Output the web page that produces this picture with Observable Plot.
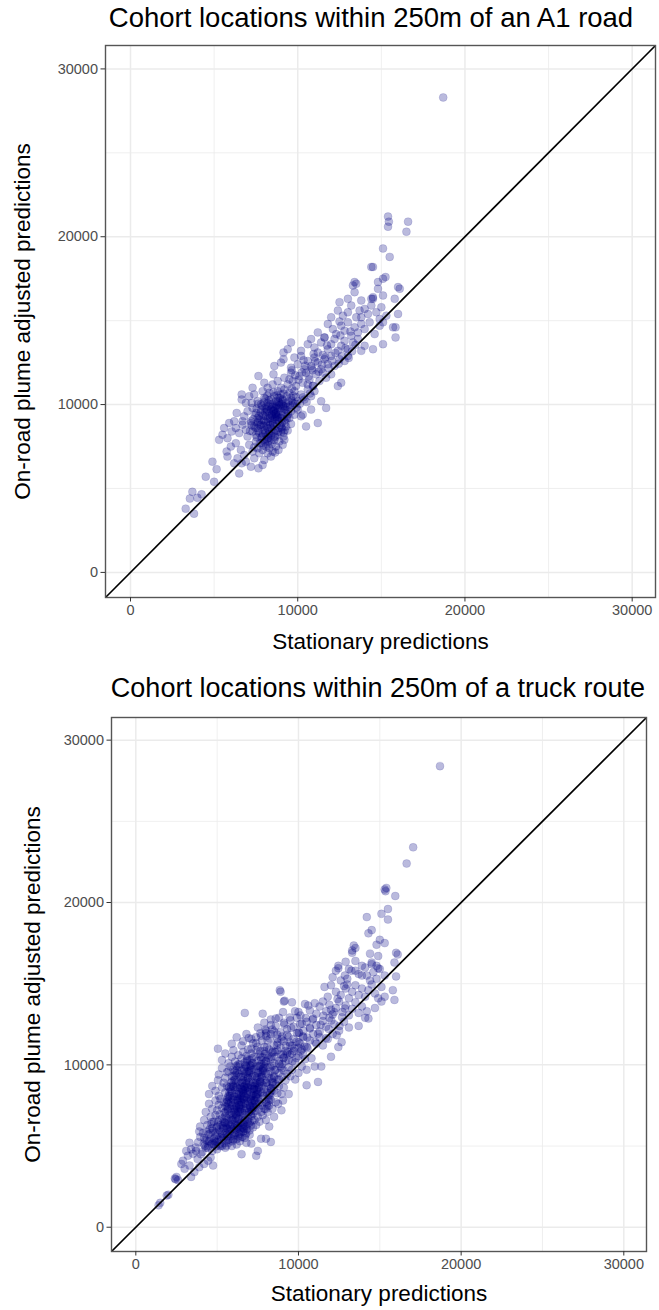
<!DOCTYPE html>
<html>
<head>
<meta charset="utf-8">
<script src="https://cdn.jsdelivr.net/npm/d3@7"></script>
<script src="https://cdn.jsdelivr.net/npm/@observablehq/plot@0.6"></script>
<style>
  body { margin: 0; background: #fff; font-family: "Liberation Sans", Arial, sans-serif; }
  #page { position: relative; width: 659px; height: 1310px; background: #fff; overflow: hidden; }
  .title { position: absolute; width: 640px; text-align: center; white-space: nowrap; color: #000; line-height: 1; }
  .panel { position: absolute; left: 0; }
  .panel [aria-label="x-axis tick label"], .panel [aria-label="y-axis tick label"] { fill: #4d4d4d; }
  .panel [aria-label="x-axis tick"], .panel [aria-label="y-axis tick"] { stroke: #333; }
</style>
</head>
<body>
<div id="page"></div>
<script>
// Axis setup shared by both panels
const majorTicks = [0, 10000, 20000, 30000];
const minorTicks = [5000, 15000, 25000];
const axisLimits = [-1495, 31395];
const xTitle = "Stationary predictions";
const yTitle = "On-road plume adjusted predictions";
const panelTitles = ["Cohort locations within 250m of an A1 road", "Cohort locations within 250m of a truck route"];

// [stationary, on-road adjusted] predictions, locations within 250m of an A1 road
const a1RoadPoints = [
  [3300,3800],[3700,4800],[3550,4400],[4000,4450],[3800,3500],[4250,4650],[4500,5700],[5000,5400],[4900,6600],[5150,6150],
  [6500,5900],[6200,6500],[6650,6500],[7200,6300],[7650,6200],[8000,6700],[7400,6800],[6900,6600],[5800,6900],[8400,6900],[7900,6400],[6400,6800],
  [5300,7900],[5750,7200],[6000,7500],[6300,7700],[6600,7300],[6800,7000],[7100,7600],[7300,7200],[7500,7800],[7600,7400],
  [7700,7100],[7800,7700],[7900,7300],[8000,7900],[8100,7500],[8200,7100],[8250,7800],[8300,7400],[8450,7650],[8500,7200],
  [8600,7900],[8700,7500],[8850,7300],[8900,7800],[9100,7600],[9200,7900],[7950,7550],[8150,7950],[7400,7450],[8650,7150],
  [5500,8200],[5600,8600],[5800,8000],[5900,8900],[6050,8400],[6300,8600],[6500,8300],[6700,8800],[6900,8500],[7000,8100],
  [7200,8900],[7300,8400],[7400,8700],[7500,8200],[7600,8600],[7650,8950],[7700,8300],[7800,8800],[7850,8100],[7900,8500],
  [8000,8700],[8050,8300],[8100,8950],[8150,8100],[8200,8600],[8300,8400],[8350,8800],[8400,8150],[8450,8550],[8500,8900],
  [8550,8350],[8600,8700],[8700,8450],[8750,8850],[8800,8200],[8900,8600],[9000,8350],[9050,8900],[9150,8100],[9300,8700],
  [9400,8450],[9600,8850],[8250,8250],[7950,8750],[8650,8050],
  [6200,9000],[6350,9500],[6700,9000],[6800,9300],[7000,9600],[7200,9000],[7300,9800],[7500,9500],[7600,9200],[7700,9100],
  [7800,9700],[7900,9400],[8000,9050],[8050,9800],[8100,9300],[8150,9600],[8200,9150],[8250,9900],[8300,9450],[8350,9200],
  [8400,9700],[8450,9350],[8500,9050],[8550,9600],[8600,9850],[8650,9250],[8700,9500],[8750,9100],[8800,9750],[8850,9400],
  [8900,9950],[8950,9200],[9000,9600],[9100,9350],[9150,9800],[9200,9050],[9300,9500],[9400,9850],[9500,9200],[9600,9600],
  [9700,9950],[9800,9400],[10000,9700],[10200,9300],[8280,9620],[8580,9420],[8820,9280],[8120,9880],[8700,9920],[9050,9150],
  [6650,10600],[6900,10100],[6650,10300],[7250,10100],[7400,10600],[7100,10500],[7600,10200],[7800,10000],[7900,10800],[8000,10400],
  [8200,10100],[8300,10700],[8400,10300],[8500,10050],[8600,10500],[8700,10200],[8800,10800],[8850,10400],[8900,10100],[9000,10600],
  [9100,10300],[9200,10900],[9300,10050],[9350,10500],[9450,10200],[9500,10700],[9600,10400],[9700,10100],[9800,10800],[9900,10450],
  [10000,10200],[10200,10600],[10400,10300],[10600,10900],[10800,10500],[11000,10800],[8550,10750],[9150,10650],[8750,10550],[9650,10950],
  [7550,8050],[7620,8420],[7720,8770],[7830,9080],[7940,9330],[8030,9560],[8140,9720],[8230,8010],[8320,8290],[8410,8620],
  [8520,8820],[8610,9120],[8720,9330],[8810,9560],[8920,9780],[9020,10020],[9120,10230],[9230,9880],[9320,9680],[9420,9430],
  [7480,8630],[7590,8920],[7680,9320],[7780,9540],[7870,9910],[7970,10130],[8070,10330],[8180,10520],[8280,10260],[8380,10040],
  [8470,9860],[8560,9640],[8670,9470],[8760,9240],[8860,9030],[8960,8780],[9060,8560],[9160,8330],[9260,8930],[9360,9170],
  [7730,7720],[7830,8020],[7930,8240],[8030,8470],[8130,8740],[8240,8960],[8330,9150],[8440,9380],[8530,9590],[8640,9770],
  [8740,10010],[8840,10190],[8940,10390],[9040,10140],[9140,9910],[9240,9720],[9340,9290],[8020,7780],[8220,7620],[8420,7880],
  [8620,8120],[8820,8390],[9020,8640],[9220,8470],[7640,10050],[7540,9750],[7440,9380],[7340,9120],[7240,8770],[7140,8430],
  [9530,9950],[9630,10240],[9730,10520],[9830,10060],[9930,9830],[10130,10050],[10330,10430],[10530,10150],[10730,10660],[10930,11120],
  [10500,8700],[10800,9700],[11200,8900],[11700,9800],[12400,11100],[12600,11300],[10300,9400],[11400,10200],
  [7650,11700],[7300,11000],[8000,11300],[8200,11000],[8500,11200],[8550,11800],[8800,11400],[9000,11000],[9200,11600],[9400,11200],
  [9600,11900],[9700,11400],[9900,11100],[10100,11700],[10300,11300],[10500,11900],[10700,11500],[10900,11100],[11100,11800],[11300,11400],
  [11500,11900],[11700,11600],[12000,11800],[9500,11500],[10600,11200],
  [10050,11480],[10250,11920],[10450,12320],[10650,11680],[10850,12150],[11050,12580],[11250,11960],[11450,12380],[11650,12820],[11850,12160],
  [12050,12610],[12250,13080],[12450,12440],[12650,12900],[12850,13360],[13050,12780],[13250,13180],[13450,13560],[9850,11750],[9650,12050],
  [10350,12640],[10950,13020],[11750,13520],[12550,14120],[13150,14350],
  [9000,12500],[9150,12700],[8600,12300],[9600,12200],[9800,12800],[10000,12400],[10200,12900],[10400,12100],[10600,12600],[10800,12300],
  [11000,12800],[11200,12500],[11400,12100],[11600,12700],[11800,12400],[12000,12900],[12200,12300],[12500,12700],[12800,12600],[13000,12900],
  [10900,12050],[11500,12950],
  [9150,13100],[9400,13300],[9600,13700],[10600,13600],[10200,13200],[10800,13900],[11000,13400],[11200,13100],[11400,13700],[11600,14000],
  [11800,13300],[12000,13600],[12200,13900],[12400,13200],[12600,13500],[12800,13800],[13000,13300],[13300,13700],[13600,13900],[14000,13500],
  [14500,13300],[15100,13600],[15850,14000],[13800,13200],
  [11200,14300],[11600,14000],[11800,14800],[12100,14500],[12300,14200],[12600,14700],[12800,14400],[13000,14900],[13200,14100],[13400,14600],
  [13600,14300],[13800,14800],[14000,14500],[14300,14900],[14600,14200],[14900,14700],[15100,14900],[15700,14600],[15850,14600],[12500,14950],
  [12000,15200],[12400,15600],[12700,15300],[13000,15500],[13200,15900],[13500,15200],[13800,15200],[14000,15700],[14200,15400],[14400,15900],
  [14700,15500],[15000,15800],[15300,15300],[16000,15400],[13700,15600],[14900,15100],
  [12500,16100],[13000,16300],[13400,16700],[13800,16200],[14400,16300],[14500,16300],[14500,16400],[14800,16900],[15100,16500],[15800,16300],
  [16000,17000],[16100,16900],[13400,17300],[13500,17200],[13300,17100],
  [14800,17300],[15250,17600],[15100,17500],[14400,18200],[14500,18200],[15500,18800],[15100,19300],[15400,21200],[15400,20600],[15450,20900],
  [16600,20900],[16500,20300],[18700,28300]
];

// [stationary, on-road adjusted] predictions, locations within 250m of a truck route
const truckRoutePoints = [
  [1400,1350],[1500,1500],[1900,1950],[2000,2000],[2400,3000],[2600,2900],[2500,3100],[2450,2950],
  [3000,3600],[3400,3100],[2900,4100],[3200,4400],[3800,4200],[4000,4500],[4750,3800],[4450,4100],[2800,3900],[3300,3800],
  [3600,3400],[4200,3900],[3900,3700],[4600,4300],
  [3520,4520],[3680,4910],[3830,5230],[3960,5560],[4090,4640],[4170,5120],[4290,5370],[4360,5890],[4470,4980],[4580,5450],
  [4660,5120],[4740,5940],[4850,5310],[4930,4980],[5020,5690],[5110,6010],[5180,4990],[5260,5560],[5340,6230],[5430,5180],
  [5520,5810],[5600,6120],[5690,5380],[5770,5720],[5860,6060],[5940,5290],[6030,5600],[6110,6290],[6190,5420],[6280,6140],
  [6360,5750],[6450,6420],[6530,5560],[6620,6080],[6700,6260],[6790,5790],[6870,6520],[4130,5810],[4680,6480],[5570,5020],
  [3100,4700],[3400,4800],[3700,4700],[3300,5200],[3900,5900],[4200,5500],[4300,4900],[4500,5300],[4600,5800],[4700,4700],
  [4800,5100],[4900,5600],[5000,4800],[5100,5400],[5200,5900],[5300,5000],[5400,5500],[5500,4900],[5600,5700],[5700,5200],
  [5800,5900],[5900,5000],[6000,5400],[6100,5800],[6200,5100],[6300,5600],[6400,5300],[6500,4500],[6600,5900],[6700,5500],
  [6800,5200],[7000,5700],[7100,5150],[7400,4400],[7500,4700],[7700,5450],[8000,5450],[8300,5250],[5000,5250],[5550,5350],
  [4250,5020],[4380,5340],[4460,5710],[4540,6030],[4630,6360],[4720,5180],[4810,5470],[4890,5830],[4970,6140],[5060,6480],
  [5140,5090],[5230,5390],[5310,5740],[5390,6080],[5480,6410],[5570,6730],[5650,5600],[5740,5930],[5820,6270],[5910,6590],
  [5990,6920],[6080,5700],[6160,6020],[6240,6330],[6330,6680],[6410,5520],[6490,5860],[6580,6190],[6660,6520],[6740,5680],
  [6830,6040],[6910,6380],[6990,5960],[7080,6260],[7160,6570],[4420,4880],[4910,5240],[5360,5610],[5870,5460],[6270,5830],
  [4200,6600],[3950,6200],[4400,6300],[4600,6800],[4700,6100],[4800,6500],[4900,6900],[5000,6200],[5100,6600],[5150,6950],
  [5200,6300],[5300,6700],[5350,6100],[5400,6500],[5500,6850],[5550,6250],[5600,6600],[5700,6400],[5750,6950],[5800,6150],
  [5850,6700],[5900,6350],[6000,6800],[6050,6100],[6100,6550],[6200,6900],[6250,6250],[6300,6650],[6400,6450],[6450,6950],
  [6500,6100],[6550,6750],[6600,6350],[6700,6600],[6750,6900],[6800,6200],[6900,6700],[7000,6450],[7100,6850],[7200,6150],
  [7300,6600],[7400,6300],[7500,6800],[7600,6500],[7800,6900],[8000,6600],[8200,6200],[8500,6800],[5450,6450],[5950,6600],
  [6150,6750],[6650,6050],[5650,6050],[6350,6050],[7050,6950],
  [4300,7100],[4500,7600],[4700,7300],[4900,7800],[5000,7200],[5100,7550],[5200,7900],[5300,7350],[5400,7700],[5450,7050],
  [5500,7450],[5600,7850],[5650,7200],[5700,7600],[5750,7950],[5800,7300],[5850,7700],[5900,7050],[5950,7500],[6000,7850],
  [6050,7250],[6100,7650],[6150,7000],[6200,7400],[6250,7800],[6300,7150],[6350,7550],[6400,7950],[6450,7300],[6500,7700],
  [6550,7050],[6600,7450],[6650,7850],[6700,7200],[6750,7600],[6800,7950],[6850,7350],[6900,7750],[6950,7100],[7000,7500],
  [7050,7900],[7100,7250],[7150,7650],[7200,7000],[7250,7400],[7300,7800],[7350,7150],[7400,7550],[7500,7950],[7550,7300],
  [7600,7700],[7700,7100],[7750,7500],[7800,7900],[7900,7300],[8000,7700],[8100,7100],[8200,7500],[8300,7850],[8400,7300],
  [8600,7700],[8750,7600],[8950,7200],[9050,7800],[6120,7320],[6420,7120],[6680,7620],[5880,7480],[7080,7380],[6280,7920],
  [5520,7120],[5610,7430],[5690,7770],[5780,8090],[5860,8410],[5950,8730],[6040,9060],[6120,9380],[6210,9700],[6290,10020],
  [6380,7230],[6460,7540],[6550,7880],[6630,8200],[6720,8520],[6810,8840],[6890,9170],[6980,9490],[7060,9810],[7150,10130],
  [7230,7340],[7320,7660],[7400,7990],[7490,8310],[7570,8630],[7660,8960],[7750,9280],[7830,9600],[7920,9920],[8000,10240],
  [8090,7450],[8170,7780],[8260,8100],[8340,8420],[8430,8740],[5580,7680],[5670,8010],[5750,8330],[5840,8650],[5920,8970],
  [6010,9290],[6100,9610],[6180,9930],[6270,7060],[6350,7390],[6440,7710],[6520,8040],[6610,8360],[6690,8680],[6780,9000],
  [6870,9320],[6950,9640],[7040,9970],[7120,7170],[7210,7500],[7290,7820],[7380,8150],[7460,8470],[7550,8790],[7640,9110],
  [7720,9430],[7810,9760],[7890,10080],[7980,7280],[8060,7610],[8150,7930],[8230,8260],[8320,8580],[8400,8900],[8490,9220],
  [6060,7110],[6160,7470],[6240,7840],[6330,8190],[6420,8560],[6500,8920],[6590,9270],[6670,9630],[6760,9990],[6840,10350],
  [6930,7070],[7010,7430],[7100,7800],[7180,8150],[7270,8510],[7350,8880],[7440,9240],[7520,9590],[7610,9950],[7700,10310],
  [5660,7290],[5930,7950],[6190,8620],[6460,9270],[6730,9930],[6990,7860],[7250,8520],[7520,7600],[7780,8260],[8050,8920],
  [6620,7940],[6880,8600],[7140,9260],[7410,9920],[6360,7510],[6790,7310],[7060,8000],[6560,8480],[6210,8050],[7330,8740],
  [4500,8200],[4700,8700],[4900,8400],[5050,9050],[5100,8100],[5300,8600],[5400,8900],[5500,8300],[5600,8700],[5700,8100],
  [5800,8500],[5850,8900],[5900,8250],[6000,8650],[6050,8050],[6100,8450],[6150,8850],[6200,8200],[6250,8600],[6300,8950],
  [6350,8350],[6400,8750],[6450,8100],[6500,8500],[6550,8900],[6600,8250],[6650,8650],[6700,8050],[6750,8450],[6800,8850],
  [6850,8200],[6900,8600],[6950,8950],[7000,8350],[7050,8750],[7100,8100],[7150,8500],[7200,8900],[7250,8250],[7300,8650],
  [7350,8050],[7400,8450],[7450,8850],[7500,8200],[7600,8600],[7650,8950],[7700,8350],[7800,8750],[7850,8100],[7900,8500],
  [8000,8900],[8050,8300],[8100,8700],[8200,8150],[8300,8550],[8400,8950],[8500,8400],[8600,8800],[8700,8250],[8800,8700],
  [8950,8200],[9100,8600],[9400,8200],[10500,8750],[11200,8950],[6620,8420],[7120,8720],[5720,8620],[6880,8380],[7420,8180],
  [5100,9400],[5300,9800],[5500,9200],[5700,9600],[5800,9900],[5900,9300],[6000,9700],[6100,9100],[6200,9500],[6300,9900],
  [6400,9250],[6500,9650],[6600,9050],[6700,9450],[6800,9850],[6900,9200],[7000,9600],[7100,9950],[7200,9350],[7300,9750],
  [7400,9100],[7500,9500],[7600,9900],[7700,9250],[7800,9650],[7900,9050],[8000,9450],[8100,9850],[8200,9200],[8300,9600],
  [8400,9950],[8500,9300],[8600,9700],[8700,9100],[8800,9500],[8900,9900],[9000,9250],[9100,9650],[9200,9050],[9300,9450],
  [9400,9850],[9500,9300],[9600,9700],[9800,9100],[10000,9500],[10200,9900],[10500,9700],[11000,9900],[11400,9900],[6350,9450],
  [6850,9550],[7350,9300],[7850,9800],[8350,9150],[7150,9700],[6650,9750],[7650,9550],[8150,9400],[5600,9550],[8800,9100],
  [8150,10430],[8420,10820],[8680,11230],[8950,11560],[9210,10220],[9480,10640],[9740,11010],[10010,11390],[10270,11760],[8540,9660],
  [8810,10050],[9070,10410],[9340,10800],[9600,11180],[9870,10420],[10130,10830],[8280,9860],[8950,9780],[9620,10230],[10290,10620],
  [7480,11120],[7750,11480],[8020,11760],[7210,11330],[6940,11650],[7660,10480],[7930,10680],[8690,11870],[9450,11390],[10560,11020],
  [8060,11080],[8230,11620],[8390,12180],[8560,10790],[8720,11380],[8890,12010],[9050,10640],[9220,11180],[9380,11730],[9550,12270],
  [9710,10860],[9880,11420],[10040,11980],[10210,12530],[10370,11130],[10540,11680],[10700,12240],[10870,12790],[11030,11410],[11200,11920],
  [11360,12470],[11530,13030],[11690,11650],[11860,12210],[12020,12730],[12190,13250],[12350,11820],[12520,12400],[12680,12930],[12850,13470],
  [9130,12480],[9460,12920],[9790,13310],[10120,13040],[10450,12880],[8600,12860],[8300,12450],[7960,12180],[7650,11950],[7380,11700],
  [5050,11000],[5300,10300],[5500,10700],[5700,10100],[5900,10500],[6000,10900],[6100,10200],[6300,10600],[6400,10050],[6500,10400],
  [6600,10800],[6700,10150],[6800,10550],[6900,10950],[7000,10300],[7100,10700],[7200,10100],[7300,10500],[7400,10900],[7500,10250],
  [7600,10650],[7700,10050],[7800,10450],[7900,10850],[8000,10200],[8100,10600],[8200,10950],[8300,10350],[8400,10750],[8500,10100],
  [8600,10500],[8700,10900],[8800,10250],[8900,10650],[9000,10050],[9100,10450],[9200,10850],[9400,10300],[9600,10700],[9800,10150],
  [10000,10550],[10200,10950],[10400,10350],[10800,10400],[12000,10500],[7150,10400],[7650,10850],[6850,10250],[8350,10500],[9300,10700],
  [5900,11300],[6500,11200],[7100,11000],[7100,11600],[6200,11700],[6800,11900],[7400,11350],[7700,11800],[7900,11100],[8100,11500],
  [8300,11900],[8500,11200],[8700,11600],[8900,11050],[9100,11450],[9300,11850],[9500,11200],[9700,11600],[9900,11950],[10100,11300],
  [10300,11700],[10500,11100],[10700,11500],[10900,11900],[11100,11300],[11300,11700],[11500,11200],[11800,11600],[12100,11900],[12450,11100],
  [12650,11400],[8000,11950],[9000,11750],[10000,11050],[6600,11450],
  [7900,12600],[8000,12100],[7500,12300],[8300,12800],[8600,12400],[8800,12900],[9100,12600],[9300,12200],[9500,12750],[9700,12350],
  [9900,12900],[10100,12500],[10300,12100],[10500,12650],[10700,12300],[10900,12850],[11100,12450],[11300,12050],[11500,12700],[11700,12350],
  [11900,12900],[12200,12500],[12500,12100],[12800,12650],[13100,12300],[13700,12400],[14100,12900],[14300,12850],[10000,12000],[8500,12050],
  [6700,13200],[7800,13150],[9050,13250],[9100,13900],[9600,13850],[10000,13250],[10400,13750],[10600,13650],[10700,13350],[11100,13150],
  [11300,13600],[11500,13900],[11700,13300],[11900,13700],[12100,13100],[12300,13500],[12500,13900],[12700,13250],[12900,13650],[13100,13050],
  [13300,13450],[13500,13850],[13700,13200],[13900,13600],[14200,13300],[14700,13500],[15100,13900],[15300,14200],[12000,13400],[11000,13800],
  [8850,14600],[9150,13950],[11600,14800],[12000,14900],[12300,14500],[11800,14200],[12600,14300],[12900,14700],[13100,14100],[13300,14500],
  [13500,14900],[13700,14300],[13900,14700],[14100,14200],[14300,14600],[14500,14950],[14700,14400],[15100,14800],[15800,14600],[15900,14000],
  [13000,14950],[12400,14050],[14900,14100],[12800,14850],[8900,14500],
  [12100,15400],[12300,15800],[12600,15200],[12850,15500],[13100,15900],[13250,15800],[13500,15800],[13700,15600],[13900,15500],[14200,15500],
  [14100,16000],[14400,15200],[14600,15700],[14800,15300],[15000,15900],[15300,15500],[16000,15450],[13000,15300],[14900,15950],[12450,15950],
  [12450,16100],[12900,16350],[13300,16900],[13500,16400],[13900,16100],[14500,16200],[14500,16300],[14400,16850],[14800,16100],[14900,16700],
  [15900,16300],[16000,16900],[16100,16800],[13400,17350],[13500,17200],[13300,17050],[15300,17500],[15000,17700],
  [14800,17400],[14200,19100],[14500,18300],[14300,18100],[15500,19600],[15100,19300],[15500,18950],[15300,20800],[15400,20900],[15350,20700],
  [15950,20400],[16650,22400],[17050,23400],[18700,28400]
];

const page = document.getElementById("page");

function addTitle(text, cx, cy, size) {
  const div = document.createElement("div");
  div.className = "title";
  div.textContent = text;
  div.style.fontSize = size + "px";
  div.style.left = (cx - 320) + "px";
  div.style.top = (cy - size * 0.5) + "px";
  page.appendChild(div);
}

function scatterPanel(points, layout) {
  const chart = Plot.plot({
    width: 659,
    height: layout.height,
    marginLeft: layout.marginLeft,
    marginRight: layout.marginRight,
    marginTop: layout.marginTop,
    marginBottom: layout.marginBottom,
    x: { domain: axisLimits },
    y: { domain: axisLimits },
    style: { fontFamily: "'Liberation Sans', Arial, sans-serif", background: "white", overflow: "visible" },
    marks: [
      Plot.ruleX(minorTicks, { stroke: "#ebebeb", strokeWidth: 0.8 }),
      Plot.ruleY(minorTicks, { stroke: "#ebebeb", strokeWidth: 0.8 }),
      Plot.ruleX(majorTicks, { stroke: "#ebebeb", strokeWidth: 1.5 }),
      Plot.ruleY(majorTicks, { stroke: "#ebebeb", strokeWidth: 1.5 }),
      Plot.dot(points, {
        x: d => d[0], y: d => d[1], r: 4,
        fill: "#000080", fillOpacity: 0.27,
        stroke: "#000080", strokeOpacity: 0.2, strokeWidth: 0.6
      }),
      // identity reference line y = x across the full panel
      Plot.link([axisLimits], {
        x1: d => d[0], y1: d => d[0], x2: d => d[1], y2: d => d[1],
        stroke: "#000", strokeWidth: 1.7
      }),
      Plot.frame({ stroke: "#555", strokeWidth: 1.4 }),
      Plot.axisX(majorTicks, { tickSize: 4.5, tickPadding: 3, fontSize: 14.5, tickFormat: d => String(d), label: null }),
      Plot.axisY(majorTicks, { tickSize: 4.5, tickPadding: 3, fontSize: 14.5, tickFormat: d => String(d), label: null }),
      Plot.text([xTitle], {
        text: d => d, frameAnchor: "bottom", dy: layout.xTitleDy,
        textAnchor: "middle", lineAnchor: "middle", fontSize: 22.5, fill: "#000"
      }),
      Plot.text([yTitle], {
        text: d => d, frameAnchor: "left", rotate: -90, dx: layout.yTitleDx,
        textAnchor: "middle", lineAnchor: "middle", fontSize: 22.5, fill: "#000"
      })
    ]
  });
  chart.classList.add("panel");
  chart.style.top = layout.top + "px";
  page.appendChild(chart);
}

addTitle(panelTitles[0], 371, 18, 27.5);
scatterPanel(a1RoadPoints, {
  top: 30, height: 625, marginLeft: 105, marginRight: 4, marginTop: 15, marginBottom: 58,
  xTitleDy: 44, yTitleDx: -83
});

addTitle(panelTitles[1], 378, 688, 27);
scatterPanel(truckRoutePoints, {
  top: 700, height: 610, marginLeft: 111, marginRight: 13, marginTop: 17, marginBottom: 59,
  xTitleDy: 42, yTitleDx: -79
});
</script>
</body>
</html>
